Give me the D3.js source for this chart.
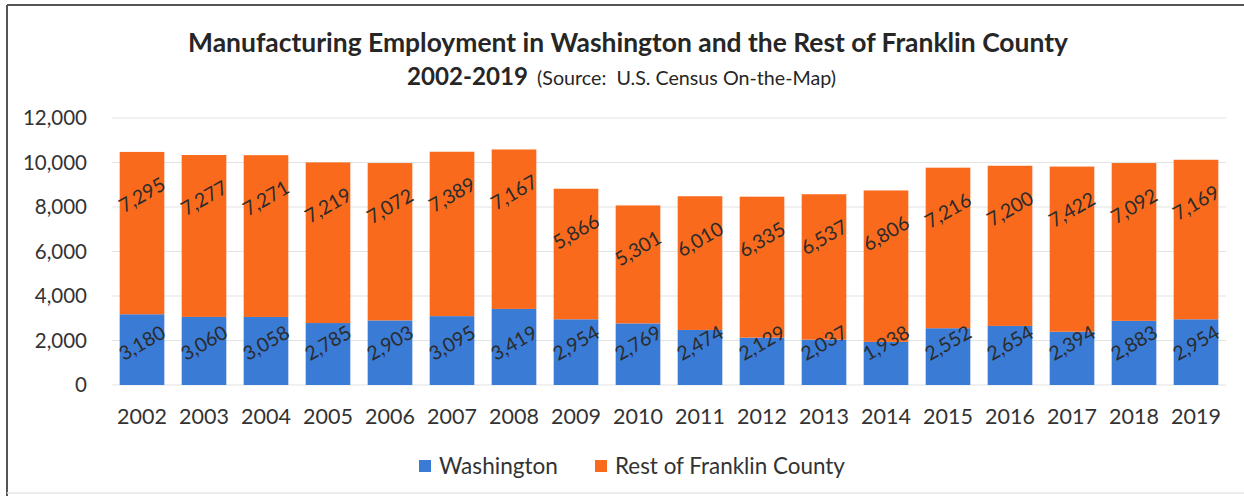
<!DOCTYPE html>
<html>
<head>
<meta charset="utf-8">
<script src="https://cdn.jsdelivr.net/npm/d3@7"></script>
<style>
  html, body { margin: 0; padding: 0; background: #fff; }
  svg { display: block; font-family: Lato, "Open Sans", sans-serif; }
  text { white-space: pre; }
</style>
</head>
<body>
<svg id="chart" width="1244" height="496"></svg>
<script>
// Manufacturing employment, Washington vs. rest of Franklin County
const years = ["2002","2003","2004","2005","2006","2007","2008","2009","2010",
               "2011","2012","2013","2014","2015","2016","2017","2018","2019"];
const washington = [3180,3060,3058,2785,2903,3095,3419,2954,2769,
                    2474,2129,2037,1938,2552,2654,2394,2883,2954];
const restOfCounty = [7295,7277,7271,7219,7072,7389,7167,5866,5301,
                      6010,6335,6537,6806,7216,7200,7422,7092,7169];
const yTicks = [0,2000,4000,6000,8000,10000,12000];
const seriesNames = ["Washington","Rest of Franklin County"];

const colors = { wash: "#3a7bd5", rest: "#fa6a1d" };
const svg = d3.select("#chart");

// frame
svg.append("line").attr("x1",7).attr("x2",1244).attr("y1",5).attr("y2",5)
  .attr("stroke","#555").attr("stroke-width",2);
svg.append("line").attr("x1",7).attr("x2",7).attr("y1",5).attr("y2",496)
  .attr("stroke","#555").attr("stroke-width",2);
svg.append("line").attr("x1",7).attr("x2",1244).attr("y1",493).attr("y2",493)
  .attr("stroke","#e6e6e6").attr("stroke-width",1.5);

// shrink/grow a text node's font-size so it spans a given width
function fit(sel, w) {
  const node = sel.node();
  const cur = parseFloat(sel.attr("font-size"));
  const len = node.getComputedTextLength();
  sel.attr("font-size", (cur * w / len).toFixed(2));
  return sel;
}

// title
const t1 = svg.append("text").attr("x", 628).attr("y", 52).attr("text-anchor","middle")
  .attr("font-size", 24).attr("font-weight", 700).attr("fill","#262626")
  .text("Manufacturing Employment in Washington and the Rest of Franklin County");
fit(t1, 880);

const t2a = svg.append("text").attr("x", 407).attr("y", 85)
  .attr("font-size", 22).attr("font-weight", 700).attr("fill","#262626").text("2002-2019");
fit(t2a, 121);
const t2b = svg.append("text").attr("x", 537).attr("y", 85)
  .attr("font-size", 17).attr("fill","#262626").text("(Source:  U.S. Census On-the-Map)");
fit(t2b, 299);

// scales
const x = d3.scaleBand().domain(years).range([111, 1227]).paddingInner(0.28).paddingOuter(0.14);
const y = d3.scaleLinear().domain([0, 12000]).range([385, 118]);

// gridlines
svg.append("g").selectAll("line").data(yTicks).join("line")
  .attr("x1", 112).attr("x2", 1226)
  .attr("y1", d => y(d)).attr("y2", d => y(d))
  .attr("stroke", "#e3e3e3").attr("stroke-width", 1);

// y axis labels
const yAxis = d3.axisLeft(y).tickValues(yTicks).tickFormat(d3.format(",")).tickSize(0).tickPadding(0);
const gy = svg.append("g").attr("transform", "translate(87,0)").call(yAxis);
gy.select(".domain").remove();
gy.selectAll("text").attr("font-size", 20.5).attr("fill", "#333")
  .attr("font-family", "Lato, sans-serif");

// x axis labels
const xAxis = d3.axisBottom(x).tickSize(0).tickPadding(0);
const gx = svg.append("g").attr("transform", "translate(0,409)").call(xAxis);
gx.select(".domain").remove();
gx.selectAll("text").attr("font-size", 21.5).attr("fill", "#333")
  .attr("font-family", "Lato, sans-serif");

// stacked bars
const rows = years.map((yr, i) => ({ year: yr, wash: washington[i], rest: restOfCounty[i] }));
const stack = d3.stack().keys(["wash", "rest"])(rows);

svg.append("g").selectAll("g").data(stack).join("g")
  .attr("fill", s => colors[s.key])
  .selectAll("rect").data(s => s).join("rect")
  .attr("x", d => x(d.data.year))
  .attr("width", x.bandwidth())
  .attr("y", d => y(d[1]))
  .attr("height", d => y(d[0]) - y(d[1]));

// value labels, rotated
const fmt = d3.format(",");
const lbl = svg.append("g").attr("font-size", 19.5).attr("fill", "#2b2b2b")
  .attr("text-anchor", "middle");
// Washington labels sit near the base of each bar
lbl.selectAll("text.w").data(stack[0]).join("text").attr("class", "w")
  .attr("transform", d => `translate(${x(d.data.year) + x.bandwidth()/2},${y(d[0]) - 42}) rotate(-30)`)
  .attr("dy", "0.35em")
  .text(d => fmt(d[1] - d[0]));
// rest-of-county labels sit near the top of each bar
lbl.selectAll("text.r").data(stack[1]).join("text").attr("class", "r")
  .attr("transform", d => `translate(${x(d.data.year) + x.bandwidth()/2},${y(d[1]) + 43}) rotate(-30)`)
  .attr("dy", "0.35em")
  .text(d => fmt(d[1] - d[0]));

// legend
const legendX = [419, 595];
const legendW = [119, 230];
const legendKeys = ["wash", "rest"];
const lg = svg.append("g");
seriesNames.forEach((name, i) => {
  lg.append("rect").attr("x", legendX[i]).attr("y", 460).attr("width", 12).attr("height", 12)
    .attr("fill", colors[legendKeys[i]]);
  const t = lg.append("text").attr("x", legendX[i] + 20).attr("y", 474)
    .attr("font-size", 20).attr("fill", "#333").text(name);
  fit(t, legendW[i]);
});
</script>
</body>
</html>
